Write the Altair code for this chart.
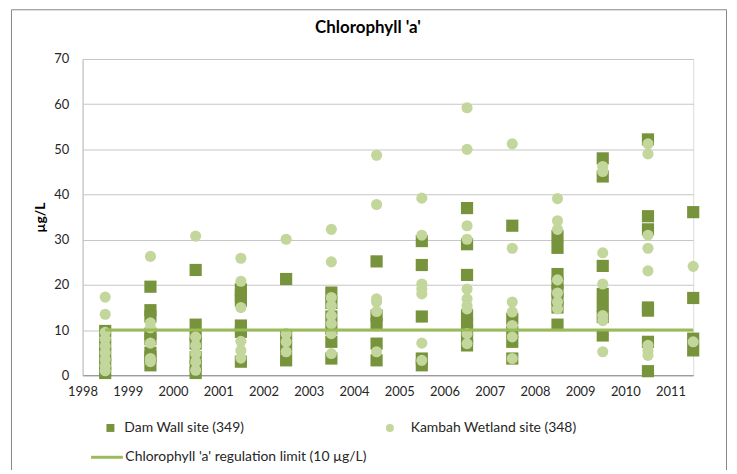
import altair as alt
import pandas as pd

# ---- data ----
dam_year = (
    [1998.5] * 5 + [1999.5] * 8 + [2000.5] * 7 + [2001.5] * 6 + [2002.5] * 4 +
    [2003.5] * 6 + [2004.5] * 5 + [2005.5] * 5 + [2006.5] * 8 + [2007.5] * 5 +
    [2008.5] * 8 + [2009.5] * 7 + [2010.5] * 7 + [2011.5] * 4
)
dam_value = [
    9.8, 7, 4.5, 2.5, 0.5,
    19.6, 14.4, 13.0, 9.2, 8.0, 5.0, 4.0, 2.2,
    23.3, 11.2, 9.0, 7.0, 4.0, 2.0, 0.5,
    19.0, 17.6, 16.5, 11.0, 9.6, 3.0,
    21.3, 8.5, 6.0, 3.3,
    18.3, 16.0, 13.0, 10.3, 7.4, 3.7,
    25.2, 13.2, 11.4, 7.0, 3.3,
    29.7, 24.4, 13.0, 3.7, 2.2,
    37.0, 29.0, 22.2, 13.3, 11.4, 10.0, 8.0, 6.6,
    33.1, 12.5, 9.6, 7.4, 3.7,
    30.8, 28.2, 22.4, 20.5, 18.7, 16.9, 15.0, 11.2,
    48.0, 44.0, 24.2, 18.0, 15.4, 12.9, 8.8,
    52.2, 35.2, 32.3, 15.0, 14.3, 7.4, 0.9,
    36.1, 17.1, 8.1, 5.5,
]

kambah_year = (
    [1998.5] * 9 + [1999.5] * 6 + [2000.5] * 6 + [2001.5] * 6 + [2002.5] * 4 +
    [2003.5] * 8 + [2004.5] * 6 + [2005.5] * 7 + [2006.5] * 10 + [2007.5] * 7 +
    [2008.5] * 7 + [2009.5] * 7 + [2010.5] * 8 + [2011.5] * 2
)
kambah_value = [
    17.3, 13.5, 9.5, 8.0, 6.5, 5.0, 3.5, 2.0, 1.0,
    26.3, 11.6, 10.5, 7.1, 3.7, 3.0,
    30.8, 8.5, 6.6, 4.8, 3.0, 1.1,
    25.9, 20.8, 15.0, 7.5, 5.5, 3.8,
    30.1, 9.2, 7.4, 5.2,
    32.3, 25.1, 17.2, 15.4, 13.2, 11.4, 9.2, 4.8,
    48.7, 37.8, 16.9, 16.2, 14.1, 5.2,
    39.2, 31.0, 20.2, 19.1, 18.0, 7.1, 3.3,
    59.2, 50.0, 33.1, 30.1, 19.1, 16.9, 15.4, 14.7, 9.2, 7.0,
    51.2, 28.1, 16.2, 14.0, 11.0, 8.5, 3.7,
    39.1, 34.2, 32.3, 21.1, 18.2, 16.2, 14.7,
    46.2, 45.1, 27.1, 20.2, 13.2, 12.1, 5.2,
    51.2, 49.0, 31.0, 28.1, 23.1, 6.6, 5.5, 4.4,
    24.1, 7.4,
]

limit_value = 10
limit_start = 1998.5
limit_end = 2011.5

year_ticks = list(range(1998, 2012))
value_ticks = list(range(0, 71, 10))

dam_label = "Dam Wall site (349)"
kambah_label = "Kambah Wetland site (348)"
limit_label = "Chlorophyll 'a' regulation limit (10 µg/L)"

DAM_COLOR = "#77933C"
KAMBAH_COLOR = "#C3D69B"
LIMIT_COLOR = "#9BBB59"
FONT = "Lato"
TEXT = "#262626"

dam_df = pd.DataFrame({"year": dam_year, "value": dam_value, "series": dam_label})
kambah_df = pd.DataFrame({"year": kambah_year, "value": kambah_value, "series": kambah_label})
limit_df = pd.DataFrame({"year": [limit_start], "year2": [limit_end],
                         "value": [limit_value], "series": [limit_label]})
frame_df = pd.DataFrame({"k": [0]})

x_enc = alt.X(
    "year:Q",
    scale=alt.Scale(domain=[1998, 2011.5], nice=False, zero=False),
    axis=alt.Axis(values=year_ticks, format="d", title=None, grid=False,
                  ticks=False, labelPadding=10, labelFontSize=13, labelFont=FONT,
                  labelColor=TEXT, domainColor="#8C8C8C", labelFlush=False),
)
y_enc = alt.Y(
    "value:Q",
    scale=alt.Scale(domain=[0, 70], nice=False),
    axis=alt.Axis(values=value_ticks, grid=True, gridColor="#C6C6C6", ticks=False,
                  labelPadding=14, labelFontSize=13, labelFont=FONT, labelColor=TEXT,
                  domainColor="#BFBFBF", title="µg/L", titleFont=FONT,
                  titleFontSize=14, titleFontWeight="bold", titleColor="#000000",
                  titleAngle=-90, titleX=-42, titleY=159, titleAlign="center",
                  titleBaseline="middle"),
)

def legend(lx, ly, **kw):
    return alt.Legend(title=None, orient="none", legendX=lx, legendY=ly, padding=0,
                      labelFontSize=14, labelFont=FONT, labelColor=TEXT,
                      labelLimit=400, **kw)

frame = alt.Chart(frame_df).mark_rect(fill=None, stroke="#868686", strokeWidth=1).encode(
    x=alt.value(-71.5), x2=alt.value(647.5), y=alt.value(-49.5), y2=alt.value(440)
)

squares = alt.Chart(dam_df).mark_square(size=150, opacity=1).encode(
    x=x_enc, y=y_enc,
    color=alt.Color("series:N", scale=alt.Scale(domain=[dam_label], range=[DAM_COLOR]),
                    legend=legend(21, 364, symbolSize=64, labelOffset=7)),
)

circles = alt.Chart(kambah_df).mark_circle(size=125, opacity=1).encode(
    x=x_enc, y=y_enc,
    color=alt.Color("series:N", scale=alt.Scale(domain=[kambah_label], range=[KAMBAH_COLOR]),
                    legend=legend(302, 364, symbolSize=64, labelOffset=14)),
)

limit = alt.Chart(limit_df).mark_rule(strokeWidth=3).encode(
    x=x_enc, x2="year2:Q", y=y_enc,
    color=alt.Color("series:N", scale=alt.Scale(domain=[limit_label], range=[LIMIT_COLOR]),
                    legend=legend(7, 383, symbolType="stroke", symbolSize=1024,
                                  symbolStrokeWidth=3, labelOffset=1)),
)

chart = alt.layer(frame, squares, circles, limit).resolve_scale(
    color="independent"
).properties(
    width=614,
    height=318,
    title=alt.TitleParams("Chlorophyll 'a'", font=FONT, fontSize=17, fontWeight="bold",
                          color="#000000", anchor="middle", dx=-20, offset=-28),
    autosize=alt.AutoSizeParams(type="none"),
    padding={"left": 75, "top": 50, "right": 36, "bottom": 94},
).configure_view(stroke=None).configure(background="white")

chart.save("out.html", embed_options={"renderer": "svg", "actions": False})
